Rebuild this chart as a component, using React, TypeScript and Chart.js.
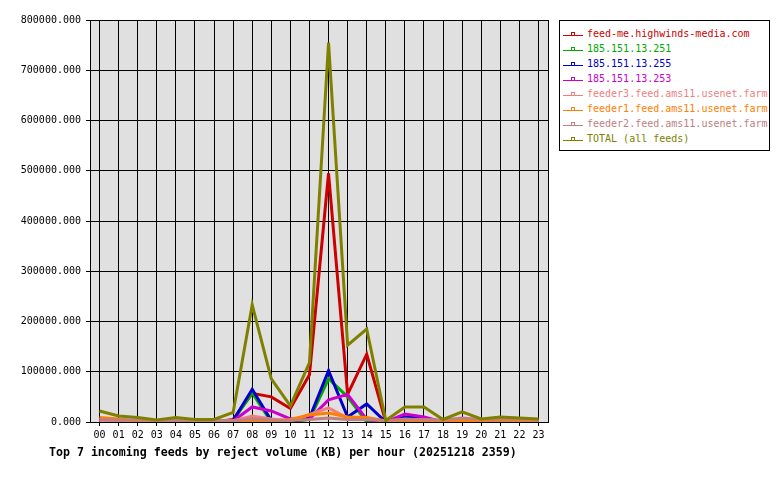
import React, { useEffect, useRef } from "react";
import { Chart, registerables } from "chart.js";

Chart.register(...registerables);

const hours = ["00","01","02","03","04","05","06","07","08","09","10","11","12","13","14","15","16","17","18","19","20","21","22","23"];

const seriesNames = [
  "feed-me.highwinds-media.com",
  "185.151.13.251",
  "185.151.13.255",
  "185.151.13.253",
  "feeder3.feed.ams11.usenet.farm",
  "feeder1.feed.ams11.usenet.farm",
  "feeder2.feed.ams11.usenet.farm",
  "TOTAL (all feeds)",
];

const seriesColors = ["#cc0000", "#00aa00", "#0000cc", "#cc00cc", "#f08080", "#ff8000", "#c08080", "#808000"];

const feedMe = [0,0,0,0,0,0,0,5000,57000,50000,27000,94000,495000,55000,135000,0,0,0,0,0,0,0,0,0];
const ip251 = [0,0,0,0,0,0,0,3000,58000,0,0,5000,86000,50000,0,0,0,0,0,0,0,0,0,0];
const ip255 = [0,0,0,0,0,0,0,3000,65000,3000,0,8000,102000,10000,36000,0,10000,8000,0,0,0,0,0,0];
const ip253 = [0,2000,0,0,0,0,0,2000,30000,22000,6000,6000,44000,55000,5000,0,16000,10000,0,0,0,0,0,0];
const feeder3 = [3000,2000,1000,1000,1000,1000,1000,2000,12000,6000,2000,15000,28000,8000,8000,1000,6000,4000,2000,3000,2000,2000,2000,1000];
const feeder1 = [9000,6000,2000,1000,1000,1000,1000,1000,2000,2000,5000,14000,18000,10000,9000,2000,2000,1000,1000,4000,1000,1000,1000,1000];
const feeder2 = [5000,4000,4000,3000,3000,3000,3000,3000,6000,4000,3000,5000,8000,5000,5000,3000,5000,5000,4000,8000,5000,5000,5000,4000];
const total = [22000,12000,9000,4000,9000,5000,5000,19000,233000,86000,32000,118000,755000,153000,185000,3000,30000,30000,5000,20000,6000,10000,8000,6000];

const seriesValues = [feedMe, ip251, ip255, ip253, feeder3, feeder1, feeder2, total];

const yMax = 800000;
const yStep = 100000;

const mono = "'DejaVu Sans Mono', 'Liberation Mono', monospace";

const plotFrame = {
  id: "plotFrame",
  beforeDraw(chart: any) {
    const a = chart.chartArea;
    const ctx = chart.ctx;
    ctx.save();
    ctx.fillStyle = "#e0e0e0";
    ctx.fillRect(a.left, a.top, a.right - a.left, a.bottom - a.top);
    ctx.restore();
  },
  afterDraw(chart: any) {
    const a = chart.chartArea;
    const ctx = chart.ctx;
    ctx.save();
    ctx.strokeStyle = "#000";
    ctx.lineWidth = 1;
    ctx.strokeRect(Math.round(a.left) + 0.5, Math.round(a.top) + 0.5, Math.round(a.right - a.left), Math.round(a.bottom - a.top));
    ctx.restore();
  },
};

function LegendMark({ color }: { color: string }) {
  return (
    <svg width="22" height="9" style={{ display: "inline-block", verticalAlign: "middle", marginRight: 3 }}>
      <line x1="1" y1="6.5" x2="21" y2="6.5" stroke={color} strokeWidth="1" />
      <rect x="9.5" y="3.5" width="3" height="3" fill="none" stroke={color} strokeWidth="1" />
    </svg>
  );
}

export default function App() {
  const ref = useRef<HTMLCanvasElement>(null);

  useEffect(() => {
    if (!ref.current) return;
    const chart = new Chart(ref.current, {
      type: "line",
      data: {
        labels: hours,
        datasets: seriesValues.map((vals, i) => ({
          label: seriesNames[i],
          data: vals,
          borderColor: seriesColors[i],
          backgroundColor: seriesColors[i],
          borderWidth: 3,
          pointRadius: 0,
          tension: 0,
          fill: false,
          order: seriesValues.length - 1 - i,
        })),
      },
      options: {
        responsive: false,
        animation: false,
        devicePixelRatio: 1,
        layout: { padding: { left: 0, top: 20, right: 232, bottom: 0 } },
        plugins: {
          legend: { display: false },
          title: { display: false },
          tooltip: { enabled: false },
        },
        scales: {
          x: {
            type: "category",
            offset: true,
            grid: { color: "#000", lineWidth: 1, offset: false, tickLength: 4, drawTicks: true },
            border: { display: true, color: "#000" },
            ticks: { color: "#000", font: { family: mono, size: 10 }, padding: 3, maxRotation: 0, autoSkip: false },
            afterFit(scale: any) { scale.height = 58; },
          },
          y: {
            min: 0,
            max: yMax,
            grid: { color: "#000", lineWidth: 1, tickLength: 4, drawTicks: true },
            border: { display: true, color: "#000" },
            ticks: {
              stepSize: yStep,
              color: "#000",
              font: { family: mono, size: 10 },
              padding: 5,
              callback: (v: any) => Number(v).toFixed(3),
            },
            afterFit(scale: any) { scale.width = 90; },
          },
        },
      },
      plugins: [plotFrame],
    });
    return () => chart.destroy();
  }, []);

  return (
    <div style={{ position: "fixed", left: 0, top: 0, width: 780, height: 480, background: "#fff" }}>
      <canvas ref={ref} width={780} height={480} style={{ position: "absolute", left: 0, top: 0 }} />
      <div
        style={{
          position: "absolute",
          left: 559,
          top: 20,
          width: 211,
          height: 131,
          border: "1px solid #000",
          boxSizing: "border-box",
          paddingTop: 4,
          paddingLeft: 2,
          fontFamily: mono,
          fontSize: 10,
          background: "#fff",
        }}
      >
        {seriesNames.map((name, i) => (
          <div key={name} style={{ height: 15, lineHeight: "15px", whiteSpace: "nowrap", color: seriesColors[i] }}>
            <LegendMark color={seriesColors[i]} />
            <span style={{ verticalAlign: "middle" }}>{name}</span>
          </div>
        ))}
      </div>
      <div
        style={{
          position: "absolute",
          left: 49,
          top: 444,
          fontFamily: mono,
          fontWeight: "bold",
          fontSize: 11.6,
          lineHeight: "16px",
          color: "#000",
          whiteSpace: "nowrap",
        }}
      >
        Top 7 incoming feeds by reject volume (KB) per hour (20251218 2359)
      </div>
    </div>
  );
}
